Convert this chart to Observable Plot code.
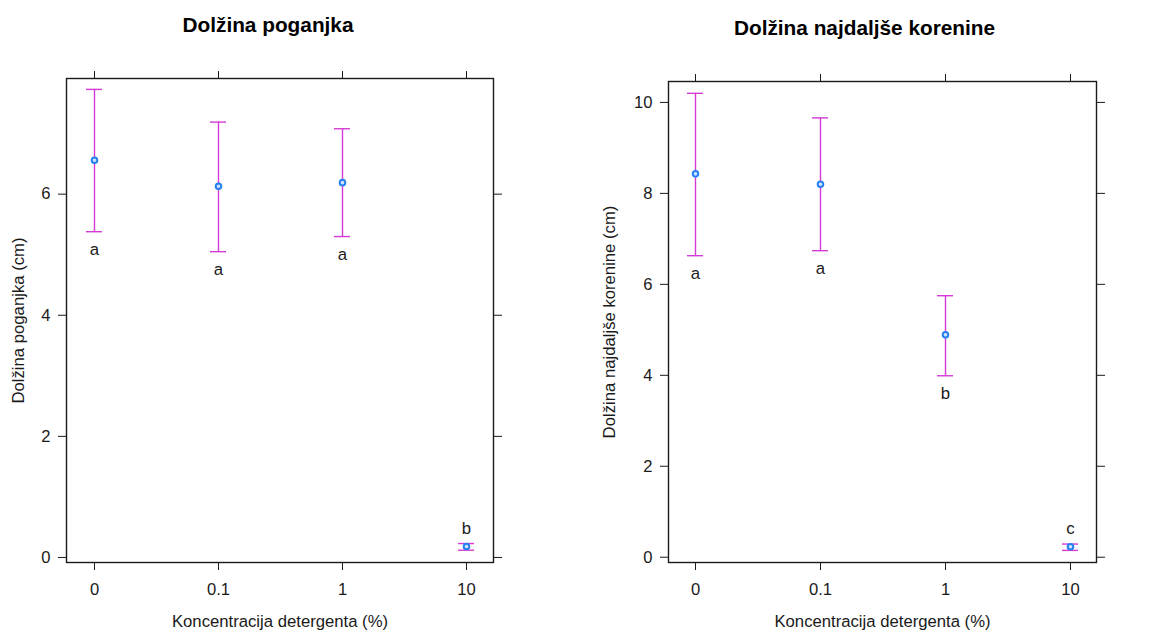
<!DOCTYPE html>
<html>
<head>
<meta charset="utf-8">
<script src="https://cdn.jsdelivr.net/npm/d3@7"></script>
<script src="https://cdn.jsdelivr.net/npm/@observablehq/plot@0.6"></script>
<style>
  html, body { margin: 0; padding: 0; background: #fff; }
  #wrap { position: relative; width: 1163px; height: 632px; overflow: hidden; }
  #wrap > div { position: absolute; top: 0; }
  svg { font-family: "Liberation Sans", Arial, sans-serif; }
</style>
</head>
<body>
<div id="wrap"><div id="left" style="left:0"></div><div id="right" style="left:580px"></div></div>
<script>
// Detergent concentrations (%) on the x axis
const concentrations = ["0", "0.1", "1", "10"];

// Shoot length (cm): mean and interval bounds, with significance groups
const shootMean  = [6.56, 6.13, 6.19, 0.18];
const shootLow   = [5.38, 5.05, 5.30, 0.12];
const shootHigh  = [7.73, 7.19, 7.08, 0.23];
const shootGroup = ["a", "a", "a", "b"];

// Longest root length (cm)
const rootMean  = [8.43, 8.20, 4.89, 0.23];
const rootLow   = [6.63, 6.74, 3.99, 0.15];
const rootHigh  = [10.20, 9.66, 5.75, 0.29];
const rootGroup = ["a", "a", "b", "c"];

const shootTicks = [0, 2, 4, 6];
const rootTicks = [0, 2, 4, 6, 8, 10];

const xLabel = "Koncentracija detergenta (%)";
const barColor = "#d63ad6";
const dotColor = "#2680f0";
const ink = "#1a1a1a";

function panel(o) {
  const rows = concentrations.map((c, i) => ({
    c, mean: o.mean[i], lo: o.lo[i], hi: o.hi[i], g: o.groups[i],
    above: o.lo[i] < 0.5
  }));
  return Plot.plot({
    width: o.width,
    height: 632,
    marginLeft: o.marginLeft,
    marginRight: o.marginRight,
    marginTop: o.marginTop,
    marginBottom: 70,
    style: {fontSize: "16.6px", color: ink, fontFamily: "'Liberation Sans', Arial, sans-serif"},
    x: {type: "point", domain: concentrations, padding: 0.212, label: null},
    y: {domain: o.yDomain, label: null},
    marks: [
      Plot.frame({stroke: "#1a1a1a", strokeWidth: 1.4}),
      Plot.axisX({anchor: "bottom", tickSize: 8, tickPadding: 13, label: null, stroke: "#1a1a1a"}),
      Plot.axisX({anchor: "top", tickSize: 8, tickFormat: () => "", label: null, stroke: "#1a1a1a"}),
      Plot.axisY({anchor: "left", ticks: o.yTicks, tickSize: 8, tickPadding: 8, label: null, stroke: "#1a1a1a"}),
      Plot.axisY({anchor: "right", ticks: o.yTicks, tickSize: 8, tickFormat: () => "", label: null, stroke: "#1a1a1a"}),
      // interval whiskers with caps
      Plot.ruleX(rows, {x: "c", y1: "lo", y2: "hi", stroke: barColor, strokeWidth: 1.4}),
      Plot.ruleY(rows, {y: "hi", x1: "c", x2: "c", insetLeft: -8, insetRight: -8, stroke: barColor, strokeWidth: 1.4}),
      Plot.ruleY(rows, {y: "lo", x1: "c", x2: "c", insetLeft: -8, insetRight: -8, stroke: barColor, strokeWidth: 1.4}),
      // group means
      Plot.dot(rows, {x: "c", y: "mean", r: 2.8, stroke: dotColor, strokeWidth: 2, fill: "#cfe4ff"}),
      // significance letters: below the interval, or above it when it sits on the floor
      Plot.text(rows.filter(d => !d.above), {x: "c", y: "lo", text: "g", dy: 18, lineAnchor: "middle", fill: ink, fontSize: 16.8}),
      Plot.text(rows.filter(d => d.above), {x: "c", y: "hi", text: "g", dy: -15, lineAnchor: "middle", fill: ink, fontSize: 16.8}),
      // panel title and axis titles
      Plot.text([o.title], {frameAnchor: "top", dx: o.titleDx, dy: o.titleDy, lineAnchor: "middle", fontWeight: "bold", fontSize: 20.8, fill: "#000"}),
      Plot.text([xLabel], {frameAnchor: "bottom", dy: 59, lineAnchor: "middle", fontSize: 16.7, fill: ink}),
      Plot.text([o.ylab], {frameAnchor: "left", dx: o.ylabDx, rotate: -90, lineAnchor: "middle", textAnchor: "middle", fontSize: 16.7, fill: ink})
    ]
  });
}

document.getElementById("left").appendChild(panel({
  title: "Dolžina poganjka",
  ylab: "Dolžina poganjka (cm)",
  mean: shootMean, lo: shootLow, hi: shootHigh, groups: shootGroup,
  yDomain: [-0.083, 7.91], yTicks: shootTicks,
  width: 580, marginLeft: 66, marginRight: 87, marginTop: 78,
  titleDx: -12, titleDy: -53, ylabDx: -48
}));

document.getElementById("right").appendChild(panel({
  title: "Dolžina najdaljše korenine",
  ylab: "Dolžina najdaljše korenine (cm)",
  mean: rootMean, lo: rootLow, hi: rootHigh, groups: rootGroup,
  yDomain: [-0.116, 10.46], yTicks: rootTicks,
  width: 583, marginLeft: 88, marginRight: 67, marginTop: 81,
  titleDx: -18, titleDy: -53, ylabDx: -59
}));
</script>
</body>
</html>
